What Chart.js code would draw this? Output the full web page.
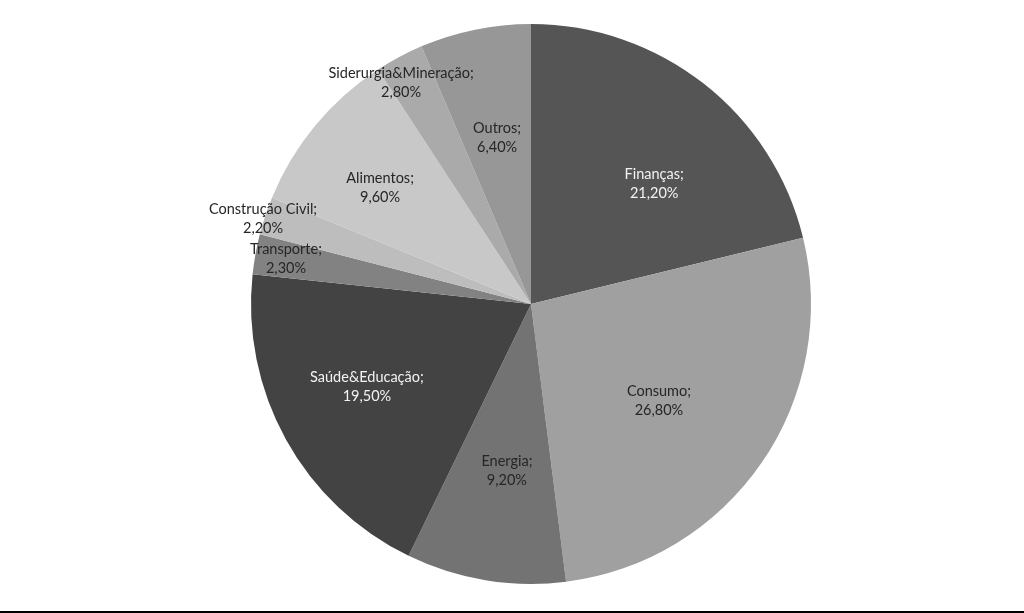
<!DOCTYPE html>
<html>
<head>
<meta charset="utf-8">
<script src="https://cdn.jsdelivr.net/npm/chart.js@4/dist/chart.umd.min.js"></script>
<style>
    html, body { margin: 0; padding: 0; background: #fff; }
    #wrap { width: 1024px; height: 611px; border-bottom: 2px solid #000; position: relative; }
</style>
</head>
<body>
<div id="wrap"><canvas id="chartSetores"></canvas></div>
<script>
// Sector shares (%), clockwise from 12 o'clock
const sectors = ['Finanças', 'Consumo', 'Energia', 'Saúde&Educação', 'Transporte',
                 'Construção Civil', 'Alimentos', 'Siderurgia&Mineração', 'Outros'];
const shares  = [21.2, 26.8, 9.2, 19.5, 2.3, 2.2, 9.6, 2.8, 6.4];
const fills   = ['#555555', '#a0a0a0', '#737373', '#434343', '#828282',
                 '#bdbdbd', '#c8c8c8', '#aaaaaa', '#979797'];
const inks    = ['#f2f2f2', '#262626', '#262626', '#f2f2f2', '#262626',
                 '#262626', '#262626', '#262626', '#262626'];

// label anchor relative to pie centre, in units of the radius
const labelOffsets = [
    [0.44, -0.43], [0.457, 0.343], [-0.086, 0.593], [-0.586, 0.293], [-0.875, -0.164],
    [-0.957, -0.307], [-0.539, -0.418], [-0.464, -0.793], [-0.121, -0.596],
];

function formatPct(v) {
    return v.toFixed(2).replace('.', ',') + '%';
}

const sliceLabels = {
    id: 'sliceLabels',
    afterDatasetsDraw(chart) {
        const ctx  = chart.ctx;
        const arcs = chart.getDatasetMeta(0).data;
        ctx.save();
        ctx.font = '14.5px Lato, "Open Sans", sans-serif';
        ctx.textAlign = 'center';
        ctx.textBaseline = 'middle';
        arcs.forEach((arc, i) => {
            const r = arc.outerRadius;
            const x = arc.x + labelOffsets[i][0] * r;
            const y = arc.y + labelOffsets[i][1] * r;
            ctx.fillStyle = inks[i];
            ctx.fillText(sectors[i] + ';', x, y - 9);
            ctx.fillText(formatPct(shares[i]), x, y + 10);
        });
        ctx.restore();
    },
};

new Chart(document.getElementById('chartSetores'), {
    type: 'pie',
    data: {
        labels: sectors,
        datasets: [{
            data: shares,
            backgroundColor: fills,
            borderWidth: 0,
        }],
    },
    options: {
        responsive: true,
        maintainAspectRatio: false,
        animation: false,
        layout: { padding: { left: 38, right: 0, top: 24, bottom: 27 } },
        plugins: {
            legend: { display: false },
            tooltip: { enabled: false },
        },
    },
    plugins: [sliceLabels],
});
</script>
</body>
</html>
